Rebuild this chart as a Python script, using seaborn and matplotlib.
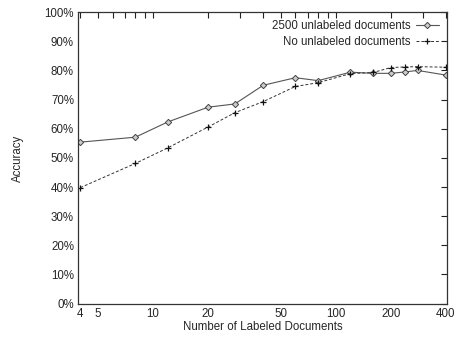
import numpy as np
import pandas as pd
import matplotlib
matplotlib.use("Agg")
import matplotlib.pyplot as plt
import matplotlib.ticker as mticker
import seaborn as sns

# values
labeled = [4, 8, 12, 20, 28, 40, 60, 80, 120, 160, 200, 240, 280, 400]
acc_unlabeled = [55.4, 57.1, 62.3, 67.4, 68.5, 74.9, 77.5, 76.5, 79.4, 79.0, 79.0, 79.5, 80.0, 78.4]
acc_none = [39.8, 48.1, 53.4, 60.6, 65.5, 69.3, 74.5, 75.8, 78.9, 79.3, 81.0, 81.2, 81.3, 81.1]
series_names = ["2500 unlabeled documents", "No unlabeled documents"]
x_ticks = [4, 5, 10, 20, 50, 100, 200, 400]
y_ticks = list(range(0, 101, 10))

sns.set_style("white")
plt.rcParams['font.family'] = ['Liberation Sans', 'DejaVu Sans']
plt.rcParams['font.size'] = 8.3

fig = plt.figure(figsize=(4.57, 3.37), dpi=100)
ax = fig.add_axes([0.171, 0.099, 0.807, 0.865])

# with unlabeled data: solid line, open diamonds
sns.lineplot(x=labeled, y=acc_unlabeled, label=series_names[0], ax=ax,
             color="#555555", linewidth=0.8, marker="D", markersize=3.2,
             markerfacecolor="#cccccc", markeredgecolor="#444444",
             markeredgewidth=0.7)
# labeled only: dashed line, plus markers
sns.lineplot(x=labeled, y=acc_none, label=series_names[1], ax=ax,
             color="#333333", linewidth=0.7, linestyle=(0, (3, 2)),
             marker="+", markersize=5, markeredgewidth=0.9,
             markeredgecolor="#111111")

ax.set_xscale("log")
ax.set_xlim(3.89, 405)
ax.set_ylim(0, 100)
ax.set_xticks(x_ticks)
ax.xaxis.set_major_formatter(mticker.FixedFormatter([str(t) for t in x_ticks]))
ax.xaxis.set_minor_locator(mticker.FixedLocator([6, 7, 8, 9, 30, 40, 60, 70, 80, 90, 300]))
ax.xaxis.set_minor_formatter(mticker.NullFormatter())
ax.set_yticks(y_ticks)
ax.set_yticklabels([f"{t}%" for t in y_ticks])

ax.tick_params(which="both", direction="in", top=True, right=True,
               length=4, width=0.8, color="#222222", labelsize=8.3, pad=3)
for s in ax.spines.values():
    s.set_color("#333333")
    s.set_linewidth(0.9)

ax.set_xlabel("Number of Labeled Documents", fontsize=8.3, labelpad=1)
ax.set_ylabel("Accuracy", fontsize=8.3, labelpad=15)

leg = ax.legend(loc="upper right", bbox_to_anchor=(1.0, 1.0), frameon=False,
                markerfirst=False, fontsize=8.3, handlelength=2.0,
                labelspacing=0.3, borderaxespad=0.3, borderpad=0.4,
                handletextpad=0.45)

fig.savefig("out.png", dpi=100)
